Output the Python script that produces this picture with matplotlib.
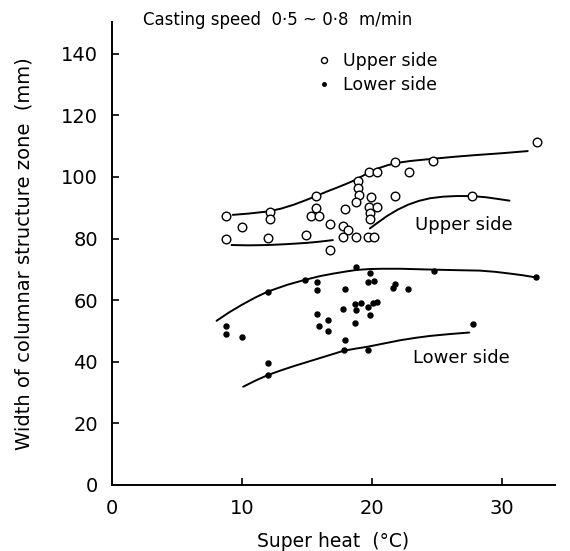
import numpy as np
import matplotlib.pyplot as plt

# Upper side (open circles)
up_x = [8.8, 10.0, 8.8, 12.2, 12.2, 12.0, 15.7, 15.7, 15.3, 15.95, 14.9, 16.8, 16.8,
        17.9, 17.8, 18.2, 17.8, 18.8, 18.9, 18.95, 19.0, 18.8, 19.8, 20.4, 19.9, 19.8,
        20.4, 19.85, 19.85, 19.7, 20.2, 21.8, 22.9, 21.8, 24.7, 27.7, 32.7]
up_y = [87.3, 83.9, 79.9, 88.7, 86.4, 80.3, 93.8, 89.8, 87.3, 87.4, 81.2, 84.6, 76.3,
        89.5, 84.1, 82.8, 80.6, 80.6, 98.8, 96.5, 94.2, 92.0, 101.7, 101.7, 93.6, 90.2,
        90.4, 88.2, 86.3, 80.6, 80.6, 104.8, 101.5, 93.9, 105.3, 93.8, 111.5]

# Lower side (filled dots)
lo_x = [8.8, 8.8, 10.0, 12.0, 12.0, 12.0, 14.85, 15.8, 15.8, 15.8, 15.9, 16.6, 16.6,
        17.9, 17.8, 17.9, 17.85, 18.8, 18.7, 18.8, 19.2, 18.7, 19.85, 19.7, 20.2, 19.7,
        20.1, 20.4, 19.85, 19.7, 21.6, 21.8, 22.8, 24.8, 27.8, 32.6]
lo_y = [51.6, 49.0, 48.2, 62.8, 39.5, 35.7, 66.6, 65.8, 63.3, 55.4, 51.6, 53.6, 50.1,
        63.5, 57.2, 47.1, 43.8, 70.7, 58.7, 56.8, 59.0, 52.5, 68.7, 65.8, 66.2, 57.9,
        59.0, 59.5, 55.2, 43.8, 63.9, 65.3, 63.6, 69.5, 52.3, 67.4]

# hand-drawn envelope curves
env_up_top_x = [9.3, 10.5, 12.0, 13.0, 14.0, 15.0, 15.7, 16.5, 17.3, 18.0, 18.5, 19.0,
                19.5, 20.0, 20.5, 21.2, 22.0, 23.0, 24.7, 26.5, 28.0, 30.0, 32.0]
env_up_top_y = [87.7, 88.1, 88.8, 89.7, 91.0, 92.6, 93.8, 95.2, 96.5, 97.7, 98.6, 99.7,
                100.8, 101.9, 102.8, 103.8, 104.6, 105.2, 105.9, 106.6, 107.1, 107.7, 108.4]
env_up_bot1_x = [9.2, 10.5, 12.0, 13.5, 15.0, 16.0, 17.0]
env_up_bot1_y = [77.9, 77.8, 77.9, 78.2, 78.6, 79.0, 79.5]
env_up_bot2_x = [19.85, 20.5, 21.2, 22.0, 22.8, 23.6, 24.5, 25.5, 26.5, 27.7, 28.8, 29.8, 30.6]
env_up_bot2_y = [83.3, 85.3, 87.4, 89.4, 91.0, 92.2, 93.1, 93.6, 93.8, 93.8, 93.4, 92.8, 92.3]
env_lo_top_x = [8.05, 9.0, 10.0, 11.0, 12.0, 13.5, 14.85, 16.0, 17.0, 18.0, 18.8, 19.8,
                20.8, 22.2, 24.8, 27.0, 28.3, 29.5, 30.5, 31.6, 32.6]
env_lo_top_y = [53.3, 56.0, 58.5, 60.8, 62.8, 65.0, 66.6, 67.8, 68.6, 69.3, 69.8, 70.1,
                70.2, 70.2, 69.9, 69.7, 69.6, 69.2, 68.7, 68.1, 67.4]
env_lo_bot_x = [10.1, 11.0, 12.0, 13.0, 14.0, 15.0, 16.0, 17.0, 17.85, 18.8, 19.7, 21.0,
                22.2, 23.4, 24.5, 26.0, 27.5]
env_lo_bot_y = [31.9, 33.8, 35.7, 37.2, 38.6, 39.9, 41.2, 42.5, 43.6, 44.3, 44.9, 46.0,
                47.0, 47.8, 48.4, 49.0, 49.5]

fig = plt.figure(figsize=(5.7, 5.51), dpi=100)
ax = fig.add_axes([112 / 570, 1 - 485 / 551, 443 / 570, 463 / 551])

for ex, ey in [(env_up_top_x, env_up_top_y), (env_up_bot1_x, env_up_bot1_y),
               (env_up_bot2_x, env_up_bot2_y), (env_lo_top_x, env_lo_top_y),
               (env_lo_bot_x, env_lo_bot_y)]:
    ax.plot(ex, ey, color='black', lw=1.4, solid_capstyle='round')

ax.plot(up_x, up_y, 'o', ms=6.2, mfc='white', mec='black', mew=1.0, ls='none',
        label='Upper side')
ax.plot(lo_x, lo_y, 'o', ms=3.6, color='black', ls='none', label='Lower side')

ax.set_xlim(0, 34.1)
ax.set_ylim(0, 150.3)
ax.set_xticks([0, 10, 20, 30])
ax.set_yticks(np.arange(0, 141, 20))
ax.spines['top'].set_visible(False)
ax.spines['right'].set_visible(False)
ax.spines['left'].set_linewidth(1.4)
ax.spines['bottom'].set_linewidth(1.4)
ax.tick_params(direction='in', length=5, width=1.2, labelsize=14)
ax.tick_params(axis='y', pad=10)
ax.tick_params(axis='x', pad=10)

ax.set_xlabel('Super heat  (°C)', fontsize=13.5, labelpad=10)
ax.set_ylabel('Width of columnar structure zone  (mm)', fontsize=14, labelpad=20)

ax.text(23.3, 84.4, 'Upper side', fontsize=13, va='center')
ax.text(23.2, 41.2, 'Lower side', fontsize=13, va='center')

fig.text(143 / 570, 1 - 20 / 551, 'Casting speed  0·5 ~ 0·8  m/min', fontsize=12,
         va='center')

leg = ax.legend(loc='upper left', bbox_to_anchor=(300 / 570, 1 - 36 / 551),
                bbox_transform=fig.transFigure, frameon=False, fontsize=12.5,
                markerscale=0.7, handlelength=1.0, handletextpad=0.6,
                labelspacing=0.35)

fig.savefig('out.png', dpi=100)
